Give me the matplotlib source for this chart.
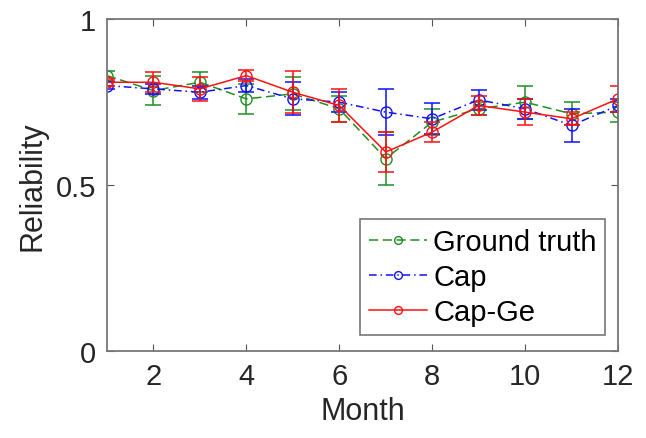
import numpy as np
import matplotlib
matplotlib.use("Agg")
import matplotlib.pyplot as plt

plt.rcParams['font.family'] = ['Liberation Sans', 'DejaVu Sans']

month = [1, 2, 3, 4, 5, 6, 7, 8, 9, 10, 11, 12]

ground = [0.83, 0.785, 0.81, 0.76, 0.775, 0.73, 0.58, 0.69, 0.73, 0.75, 0.715, 0.72]
ground_err = [0.015, 0.045, 0.03, 0.046, 0.05, 0.04, 0.08, 0.04, 0.02, 0.05, 0.035, 0.03]

cap = [0.80, 0.79, 0.78, 0.80, 0.76, 0.75, 0.72, 0.70, 0.757, 0.73, 0.68, 0.74]
cap_err = [0.01, 0.015, 0.02, 0.02, 0.05, 0.03, 0.07, 0.046, 0.03, 0.03, 0.05, 0.02]

capge = [0.81, 0.81, 0.79, 0.83, 0.78, 0.74, 0.60, 0.66, 0.74, 0.72, 0.70, 0.76]
capge_err = [0.01, 0.03, 0.035, 0.017, 0.063, 0.05, 0.06, 0.03, 0.03, 0.04, 0.02, 0.04]

fig = plt.figure(figsize=(6.46, 4.39), dpi=100)
ax = fig.add_axes([0.1656, 0.198, 0.7911, 0.756])

green = '#1f8f1f'
series = [
    (ground, ground_err, green, (0, (6, 3)), 'Ground truth'),
    (cap, cap_err, '#1010ff', (0, (5, 2.5, 1, 2.5)), 'Cap'),
    (capge, capge_err, '#ff1010', '-', 'Cap-Ge'),
]
for vals, err, col, ls, name in series:
    ax.errorbar(month, vals, yerr=err, fmt='none', ecolor=col, capsize=6,
                elinewidth=1.1, capthick=1.1)
    ax.plot(month, vals, color=col, ls=ls, lw=1.1, marker='o', mfc='none',
            ms=8, mew=1.0, label=name)

ax.set_xlim(1, 12)
ax.set_ylim(0, 1)
ax.set_xticks([2, 4, 6, 8, 10, 12])
ax.set_yticks([0, 0.5, 1])
ax.set_yticklabels(['0', '0.5', '1'])
ax.tick_params(direction='in', top=True, right=True, length=5, width=0.8,
               color='#555555', labelsize=21, labelcolor='#262626', pad=8)
for s in ax.spines.values():
    s.set_color('#777777')
    s.set_linewidth(1.3)

ax.set_xlabel('Month', fontsize=22, color='#262626', labelpad=4)
ax.set_ylabel('Reliability', fontsize=22, color='#262626', labelpad=6)

leg = ax.legend(loc='lower right', fontsize=21, frameon=True, fancybox=False,
                edgecolor='#555555', handlelength=2.0, handletextpad=0.2,
                borderpad=0.3, labelspacing=0.25, borderaxespad=0,
                markerscale=0.7, bbox_to_anchor=(0.975, 0.048))
leg.get_frame().set_linewidth(1.2)

fig.savefig('out.png', dpi=100)
